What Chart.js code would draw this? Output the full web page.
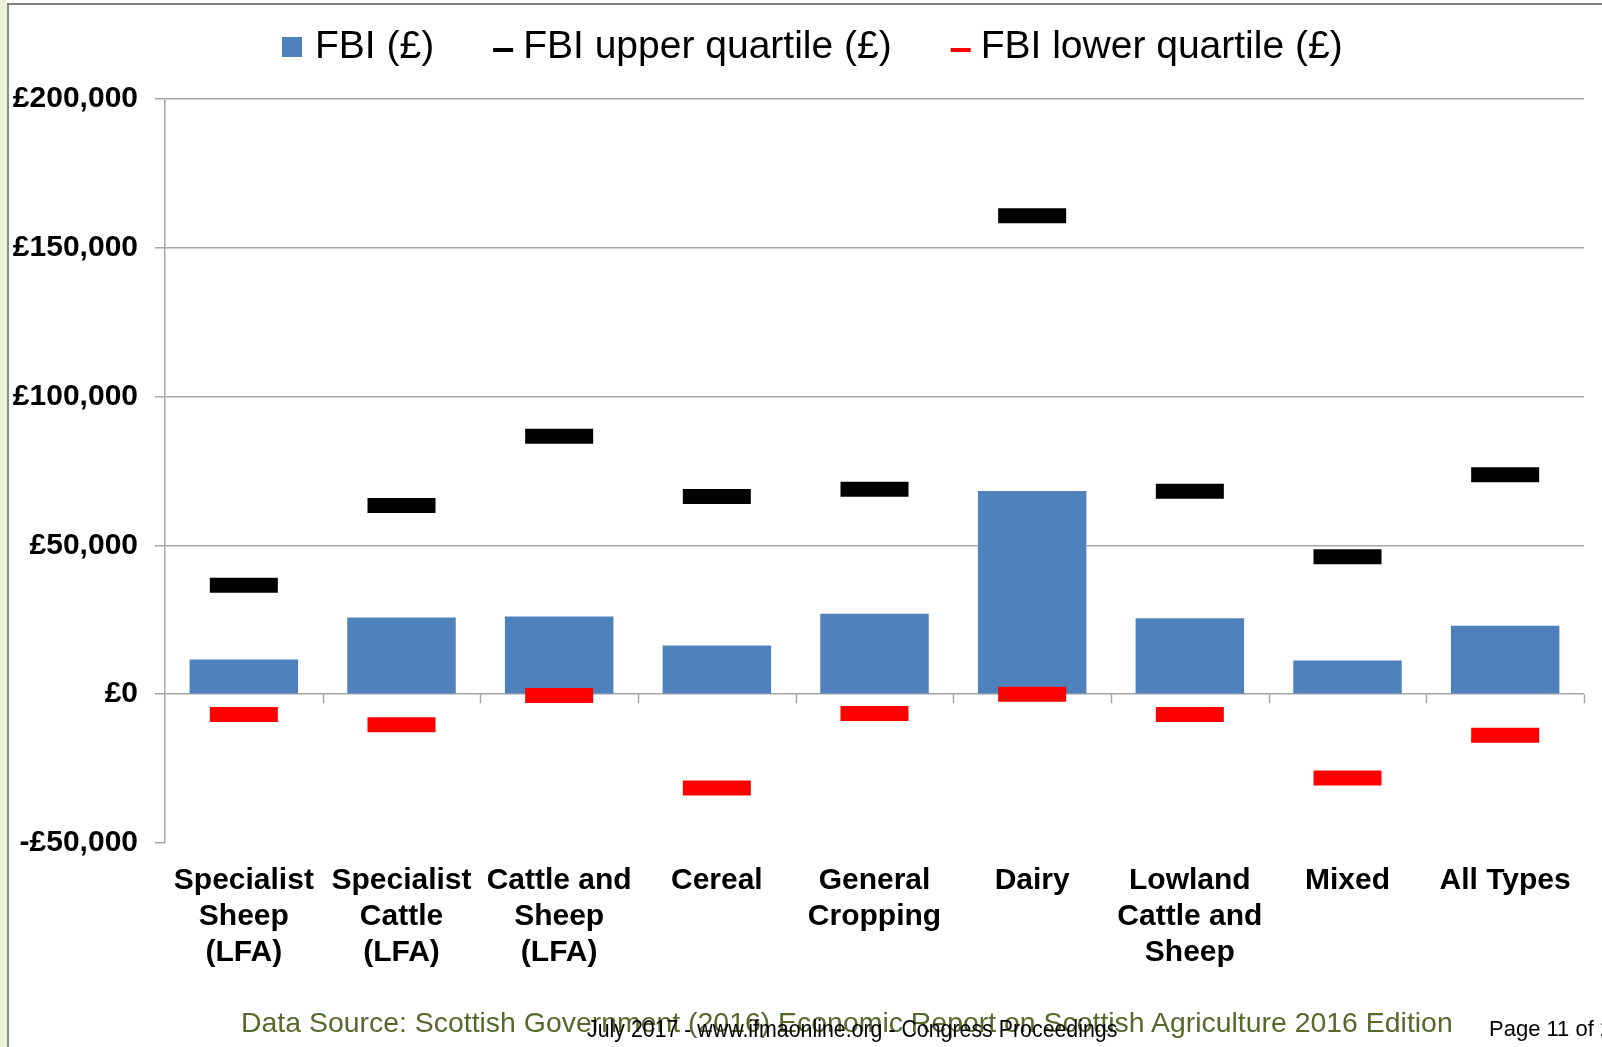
<!DOCTYPE html>
<html>
<head>
<meta charset="utf-8">
<script src="https://cdn.jsdelivr.net/npm/chart.js@4.4.1/dist/chart.umd.min.js"></script>
<style>
  html, body { margin: 0; padding: 0; background: #fff; }
  body { width: 1602px; height: 1047px; position: relative; overflow: hidden; font-family: "Liberation Sans", Arial, sans-serif; }
  #strip { position: absolute; left: 0; top: 0; width: 7px; height: 1047px; background: #eaf3d8; }
  #vline { position: absolute; left: 7px; top: 3px; width: 2px; height: 1044px; background: #8c8c8c; }
  #hline { position: absolute; left: 7px; top: 3px; width: 1595px; height: 2px; background: #808080; }
  #wrap { position: absolute; left: 0; top: 0; width: 1602px; height: 1047px; }
  .foot { position: absolute; white-space: nowrap; line-height: 1; transform-origin: 0 50%; }
  #source { left: 241px; top: 1009px; font-size: 28px; color: #55692b; }
  #stamp { left: 587px; top: 1018px; font-size: 23px; color: #000; }
  #page { left: 1489px; top: 1018px; font-size: 22px; color: #000; }
</style>
</head>
<body>
<div id="strip"></div>
<div id="wrap"><canvas id="chart" width="1602" height="1047"></canvas></div>
<div id="vline"></div>
<div id="hline"></div>
<div class="foot" id="source">Data Source: Scottish Government (2016) Economic Report on Scottish Agriculture 2016 Edition</div>
<div class="foot" id="stamp">July 2017 - www.ifmaonline.org - Congress Proceedings</div>
<div class="foot" id="page">Page 11 of 2</div>
<script>
const categories = [
    ['Specialist', 'Sheep', '(LFA)'],
    ['Specialist', 'Cattle', '(LFA)'],
    ['Cattle and', 'Sheep', '(LFA)'],
    'Cereal',
    ['General', 'Cropping'],
    'Dairy',
    ['Lowland', 'Cattle and', 'Sheep'],
    'Mixed',
    'All Types'
];
const fbiValues = [11700, 25800, 26100, 16400, 27000, 68300, 25500, 11300, 23000];
const upperQuartile = [36600, 63400, 86700, 66400, 68900, 160800, 68200, 46200, 73700];
const lowerQuartile = [-6800, -10300, -400, -31500, -6500, 0, -6800, -28200, -13800];
const yTicks = [-50000, 0, 50000, 100000, 150000, 200000];

const FONT = '"Liberation Sans", Arial, sans-serif';
const gridGray = '#a6a6a6';

const formatPounds = (v) => {
    const s = String(Math.abs(v)).replace(/\B(?=(\d{3})+(?!\d))/g, ',');
    return (v < 0 ? '-£' : '£') + s;
};

// legend drawn across the top, like the slide's own
const topLegend = {
    id: 'topLegend',
    afterDraw(chart) {
        const ctx = chart.ctx;
        const y = 47, box = 20, gap = 59;
        let x = 282;
        ctx.save();
        ctx.font = '39px ' + FONT;
        ctx.textBaseline = 'middle';
        chart.data.datasets.forEach(ds => {
            let textGap;
            if (ds.type === 'line') {
                ctx.fillStyle = ds.pointBorderColor;
                ctx.fillRect(x, y + 1, box, 4);
                textGap = 10;
            } else {
                ctx.fillStyle = ds.backgroundColor;
                ctx.fillRect(x, y - box / 2, box, box);
                textGap = 13;
            }
            ctx.fillStyle = '#000';
            ctx.fillText(ds.label, x + box + textGap, y);
            x += box + textGap + ctx.measureText(ds.label).width + gap;
        });
        ctx.restore();
    }
};

// small tick marks hanging off the zero line between categories
const zeroTicks = {
    id: 'zeroTicks',
    afterDraw(chart) {
        const { ctx, scales: { x, y } } = chart;
        const y0 = y.getPixelForValue(0);
        ctx.save();
        ctx.strokeStyle = gridGray;
        ctx.lineWidth = 1.5;
        ctx.beginPath();
        for (let i = 1; i <= categories.length; i++) {
            const px = Math.round(x.getPixelForValue(i - 0.5)) + 0.5;
            ctx.moveTo(px, y0);
            ctx.lineTo(px, y0 + 9);
        }
        ctx.stroke();
        ctx.restore();
    }
};

new Chart(document.getElementById('chart'), {
    type: 'bar',
    data: {
        labels: categories,
        datasets: [
            {
                label: 'FBI (£)',
                data: fbiValues,
                backgroundColor: '#4f81bd',
                borderWidth: 0,
                barPercentage: 0.688,
                categoryPercentage: 1.0,
                order: 2
            },
            {
                type: 'line',
                label: 'FBI upper quartile (£)',
                data: upperQuartile,
                showLine: false,
                pointStyle: 'line',
                pointRadius: 34,
                pointHoverRadius: 34,
                pointBorderWidth: 15,
                pointHoverBorderWidth: 15,
                pointBorderColor: '#000000',
                borderColor: '#000000',
                order: 1
            },
            {
                type: 'line',
                label: 'FBI lower quartile (£)',
                data: lowerQuartile,
                showLine: false,
                pointStyle: 'line',
                pointRadius: 34,
                pointHoverRadius: 34,
                pointBorderWidth: 15,
                pointHoverBorderWidth: 15,
                pointBorderColor: '#ff0000',
                borderColor: '#ff0000',
                order: 1
            }
        ]
    },
    options: {
        responsive: false,
        devicePixelRatio: 1,
        animation: false,
        layout: { autoPadding: false, padding: { top: 99, left: 0, right: 18, bottom: 0 } },
        plugins: {
            legend: { display: false },
            tooltip: { enabled: false }
        },
        scales: {
            x: {
                offset: true,
                grid: { display: false, drawTicks: false },
                border: { display: false },
                afterFit: (s) => {
                    s.height = 204;
                    s.paddingLeft = 0;
                    s.paddingRight = 0;
                },
                ticks: {
                    padding: 20,
                    color: '#000',
                    autoSkip: false,
                    maxRotation: 0,
                    font: { family: FONT, size: 30, weight: 'bold', lineHeight: 1.19 }
                }
            },
            y: {
                min: -50000,
                max: 200000,
                afterBuildTicks: (s) => { s.ticks = yTicks.map(v => ({ value: v })); },
                afterFit: (s) => { s.width = 165; },
                border: { display: true, color: gridGray, width: 1.5 },
                grid: {
                    color: (c) => (c.tick && c.tick.value === -50000 ? 'rgba(0,0,0,0)' : gridGray),
                    tickColor: gridGray,
                    lineWidth: 1.5,
                    tickLength: 10
                },
                ticks: {
                    padding: 17,
                    color: '#000',
                    font: { family: FONT, size: 30, weight: 'bold' },
                    callback: (v) => formatPounds(v)
                }
            }
        }
    },
    plugins: [topLegend, zeroTicks]
});

// squeeze the footer lines to the width they take on the slide
[['source', 1212], ['stamp', 530]].forEach(([id, w]) => {
    const el = document.getElementById(id);
    el.style.transform = 'scaleX(' + (w / el.offsetWidth) + ')';
});
</script>
</body>
</html>
